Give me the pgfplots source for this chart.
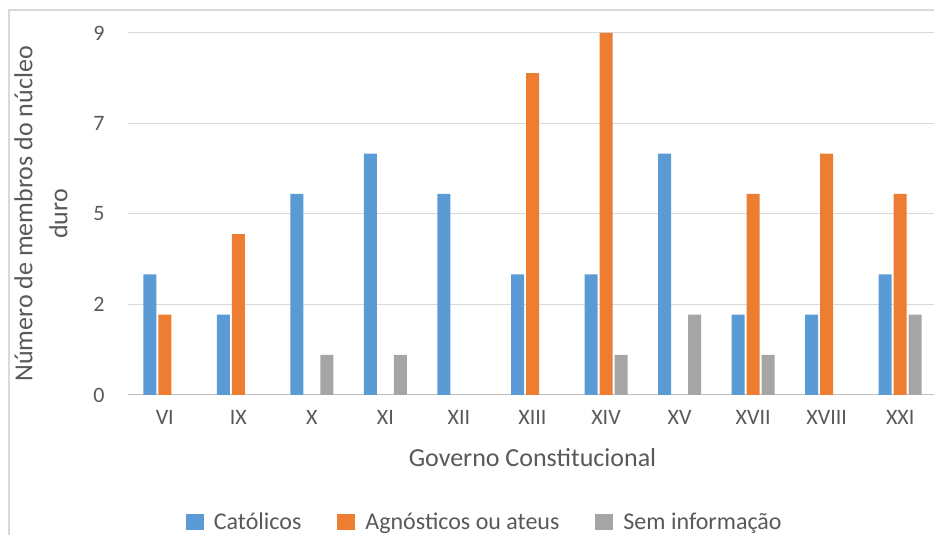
\documentclass[border=0pt]{standalone}
\usepackage{fontspec}
\setmainfont{Carlito}
\usepackage{pgfplots}
\pgfplotsset{compat=1.18}
\definecolor{cblue}{HTML}{5B9BD5}
\definecolor{corange}{HTML}{ED7D31}
\definecolor{cgray}{HTML}{A5A5A5}
\definecolor{textgray}{HTML}{595959}
\definecolor{gridgray}{HTML}{D9D9D9}
\definecolor{axisgray}{HTML}{BFBFBF}
\begin{document}
\begin{tikzpicture}[x=1pt,y=1pt]
\useasboundingbox (0,0) rectangle (934,535);
\draw[color=gridgray, line width=1.5pt] (9,-20) -- (9,525) -- (960,525);
\begin{axis}[
  at={(128pt,140pt)}, anchor=south west, scale only axis,
  width=809pt, height=362pt,
  xmin=-0.5, xmax=10.5, ymin=0, ymax=9,
  ybar=2pt, bar width=13pt,
  ytick={0,2.25,4.5,6.75,9}, yticklabels={0,2,5,7,9},
  xtick={0,...,10}, xticklabels={VI,IX,X,XI,XII,XIII,XIV,XV,XVII,XVIII,XXI},
  major tick length=0pt,
  axis x line*=bottom, axis y line*=left,
  y axis line style={draw=none},
  x axis line style={draw=axisgray, line width=1pt, -},
  ymajorgrids, grid style={draw=gridgray, line width=1pt},
  tick label style={font=\fontsize{22}{26}\selectfont, text=textgray},
  xticklabel style={anchor=base, yshift=-30pt},
  yticklabel style={xshift=-20pt},
  xlabel={Governo Constitucional},
  ylabel={Número de membros do núcleo\\duro},
  every axis x label/.style={at={(axis description cs:0.5,-0.174)}, anchor=center, font=\fontsize{26}{32}\selectfont, text=textgray},
  every axis y label/.style={at={(axis description cs:-0.1075,0.5)}, rotate=90, anchor=center, align=center, font=\fontsize{26}{35}\selectfont, text=textgray},
  legend style={at={(axis description cs:0.441,-0.350)}, anchor=center, draw=none, fill=none, legend columns=3, font=\fontsize{24}{28}\selectfont, text=textgray,
    /tikz/every odd column/.append style={column sep=8pt},
    /tikz/every even column/.append style={column sep=34pt}},
  legend image code/.code={\fill[#1,draw=none] (0pt,-8pt) rectangle (18pt,8pt);},
]
\addplot[fill=cblue, draw=none] coordinates {(0,3)(1,2)(2,5)(3,6)(4,5)(5,3)(6,3)(7,6)(8,2)(9,2)(10,3)};
\addplot[fill=corange, draw=none] coordinates {(0,2)(1,4)(5,8)(6,9)(8,5)(9,6)(10,5)};
\addplot[fill=cgray, draw=none] coordinates {(2,1)(3,1)(6,1)(7,2)(8,1)(10,2)};
\legend{Católicos,Agnósticos ou ateus,Sem informação}
\end{axis}
\end{tikzpicture}
\end{document}
